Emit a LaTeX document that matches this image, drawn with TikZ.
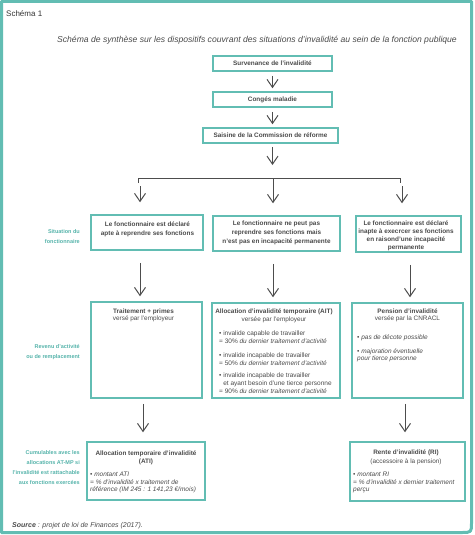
\documentclass[tikz,border=0pt]{standalone}
\usepackage{fontspec}
\setmainfont{Liberation Sans}
\usetikzlibrary{arrows.meta}
\definecolor{tealc}{HTML}{62BDB3}
\definecolor{labc}{HTML}{55B3AA}
\definecolor{txtc}{HTML}{4A4A4A}
\definecolor{arrc}{HTML}{4D4D4D}
\begin{document}
\begin{tikzpicture}[x=1pt,y=-1pt,
  box/.style={draw=tealc,line width=1.5pt,inner sep=0pt,rectangle},
  t/.style={text=txtc,inner sep=0pt,font=\fontsize{6.4}{8}\selectfont},
  tb/.style={text=txtc,inner sep=0pt,font=\bfseries\fontsize{6.4}{8}\selectfont},
  ts/.style={text=txtc,inner sep=0pt,align=center,font=\bfseries\fontsize{6.4}{9}\selectfont},
  hd/.style={text=txtc,inner sep=0pt,align=center,font=\fontsize{6.4}{7.5}\selectfont},
  bl/.style={text=txtc,inner sep=0pt,align=left,anchor=west,font=\fontsize{6.5}{8}\selectfont},
  lab/.style={text=labc,inner sep=0pt,anchor=east,align=right,font=\bfseries\fontsize{5.5}{9.7}\selectfont},
  arr/.style={draw=arrc,line width=1pt,-{Straight Barb[length=8pt,width=11pt]}},
  barline/.style={draw=arrc,line width=1pt},
  frame/.style={draw=tealc,line width=3pt,line join=round}
]
\useasboundingbox (0,0) rectangle (474,535);
% frame
\draw[frame] (461.5,532.5) -- (1.5,532.5) -- (1.5,1.5) -- (471.5,1.5) -- (471.5,522.5) .. controls (471.5,532.5) .. (461.5,532.5);

\node[anchor=west,inner sep=0pt,text=black!80,font=\fontsize{8}{10}\selectfont] (s1) at (6,14) {Schéma 1};
\node[inner sep=0pt,text=txtc,font=\itshape\fontsize{8.6}{10}\selectfont] (title) at (257,40) {Schéma de synthèse sur les dispositifs couvrant des situations d’invalidité au sein de la fonction publique};

% top boxes
\node[box,minimum width=119pt,minimum height=15pt] (b1) at (272.5,63.5) {};
\node[tb] (t1) at (b1) {Survenance de l’invalidité};
\node[box,minimum width=119pt,minimum height=15pt] (b2) at (272.5,99.5) {};
\node[tb] (t2) at (b2) {Congés maladie};
\node[box,minimum width=135pt,minimum height=15pt] (b3) at (270.5,135.5) {};
\node[tb] (t3) at (b3) {Saisine de la Commission de réforme};

% situation boxes
\node[box,minimum width=112pt,minimum height=35pt] (sA) at (147,232.5) {};
\node[ts] (tsA) at (147.5,229) {Le fonctionnaire est déclaré\\apte à reprendre ses fonctions};
\node[box,minimum width=127pt,minimum height=35pt] (sB) at (276.5,233.5) {};
\node[ts] (tsB) at (276.5,233) {Le fonctionnaire ne peut pas\\reprendre ses fonctions mais\\n’est pas en incapacité permanente};
\node[box,minimum width=105pt,minimum height=36pt] (sC) at (408.5,234) {};
\node[ts,font=\bfseries\fontsize{6.4}{8}\selectfont] (tsC) at (406,236) {Le fonctionnaire est déclaré\\inapte à execrcer ses fonctions\\en raisond’une incapacité\\permanente};

% revenu boxes
\node[box,minimum width=111pt,minimum height=96pt] (rA) at (146.5,350) {};
\node[hd] (hA) at (143.5,315.5) {\textbf{Traitement + primes}\\versé par l’employeur};
\node[box,minimum width=128pt,minimum height=95pt] (rB) at (276,350.5) {};
\node[hd] (hB) at (274,316) {\textbf{Allocation d’invalidité temporaire (AIT)}\\versée par l’employeur};
\node[bl] (bB1) at (219,337.5) {• invalide capable de travailler\\= 30\% \textit{du dernier traitement d’activité}};
\node[bl] (bB2) at (219,359) {• invalide incapable de travailler\\= 50\% \textit{du dernier traitement d’activité}};
\node[bl] (bB3) at (219,383) {• invalide incapable de travailler\\\hphantom{• }et ayant besoin d’une tierce personne\\= 90\% \textit{du dernier traitement d’activité}};
\node[box,minimum width=111pt,minimum height=95pt] (rC) at (407.5,350.5) {};
\node[hd] (hC) at (407.5,315.5) {\textbf{Pension d’invalidité}\\versée par la CNRACL};
\node[bl,font=\itshape\fontsize{6.5}{8}\selectfont] (bC1) at (357,338) {• pas de décote possible};
\node[bl,font=\itshape\fontsize{6.5}{7.5}\selectfont] (bC2) at (357,355.5) {• majoration éventuelle\\pour tierce personne};

% bottom boxes
\node[box,minimum width=118pt,minimum height=58pt] (bA) at (146,471) {};
\node[hd,font=\fontsize{6.4}{8}\selectfont] (hbA) at (146,458) {\textbf{Allocation temporaire d’invalidité}\\\textbf{(ATI)}};
\node[bl,font=\itshape\fontsize{6.5}{7.5}\selectfont] (bbA) at (90,482.5) {• montant ATI\\= \% d’invalidité x traitement de\\référence (IM 245 : 1 141,23 €/mois)};
\node[box,minimum width=115pt,minimum height=59pt] (bC) at (407.5,471.5) {};
\node[hd,font=\fontsize{6.4}{8.5}\selectfont] (hbC) at (406,457.5) {\textbf{Rente d’invalidité (RI)}\\(accessoire à la pension)};
\node[bl,font=\itshape\fontsize{6.5}{7.5}\selectfont] (bbC) at (353,482.5) {• montant RI\\= \% d’invalidité x dernier traitement\\perçu};

% side labels
\node[lab] (l1) at (80,236.5) {Situation du\\fonctionnaire};
\node[lab] (l2) at (80,352) {Revenu d’activité\\ou de remplacement};
\node[lab] (l3) at (80,467.5) {Cumulables avec les\\allocations AT-MP si\\l’invalidité est rattachable\\aux fonctions exercées};

\node[anchor=west,inner sep=0pt,text=txtc,font=\itshape\fontsize{7}{9}\selectfont] (src) at (12,526) {\textbf{Source} : projet de loi de Finances (2017).};

% connectors
\coordinate (xA1) at (140,0);
\coordinate (xB) at (273,0);
\coordinate (xC2) at (410,0);
\coordinate (xA3) at (143,0);
\coordinate (xC3) at (405,0);
\coordinate (barL) at (138,178);
\coordinate (barR) at (400,178);
\coordinate (barM) at (272.5,178);
\coordinate (aA) at (140,186);
\coordinate (aB) at (273,179);
\coordinate (aC) at (402,186);

\draw[arr,shorten <=4pt,shorten >=3pt] (b1) -- (b2);
\draw[arr,shorten <=4pt,shorten >=3pt] (b2.south) -- (b2.south |- b3.north);
\draw[arr,shorten <=3pt,shorten >=13pt] (b3.south -| barM) -- (barM);
\draw[barline] ([yshift=-5pt]barL) -- (barL) -- (barR) -- ([yshift=-5pt]barR);
\draw[arr,shorten >=12pt] (aA) -- (aA |- sA.north);
\draw[arr,shorten >=12pt] (aB) -- (aB |- sB.north);
\draw[arr,shorten >=12pt] (aC) -- (aC |- sC.north);
\draw[arr,shorten <=12pt,shorten >=5pt] (sA.south -| xA1) -- (rA.north -| xA1);
\draw[arr,shorten <=12pt,shorten >=5pt] (sB.south -| xB) -- (rB.north -| xB);
\draw[arr,shorten <=12pt,shorten >=5pt] (sC.south -| xC2) -- (rC.north -| xC2);
\draw[arr,shorten <=5pt,shorten >=9pt] (rA.south -| xA3) -- (bA.north -| xA3);
\draw[arr,shorten <=5pt,shorten >=9pt] (rC.south -| xC3) -- (bC.north -| xC3);
\end{tikzpicture}
\end{document}
